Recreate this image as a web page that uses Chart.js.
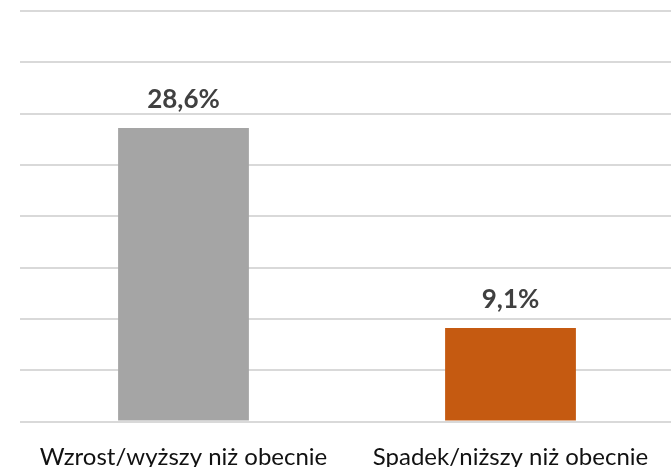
<!DOCTYPE html>
<html>
<head>
<meta charset="utf-8">
<script src="https://cdn.jsdelivr.net/npm/chart.js@4"></script>
<style>
  html, body { margin: 0; padding: 0; overflow: hidden; background: #fff; }
  #wrap { width: 674px; height: 467px; }
</style>
</head>
<body>
<div id="wrap"><canvas id="odpowiedzi"></canvas></div>
<script>
var categories = ["Wzrost/wyższy niż obecnie", "Spadek/niższy niż obecnie"];
var values = [28.6, 9.1];
var barColors = ["#a5a5a5", "#c55a11"];
var yMin = 0;
var yMax = 40;
var yStep = 5;

// etykiety wartości nad słupkami
var valueLabels = {
    id: "valueLabels",
    afterDatasetsDraw: function (chart) {
        var ctx = chart.ctx;
        var meta = chart.getDatasetMeta(0);
        ctx.save();
        ctx.font = "bold 26px Lato";
        ctx.fillStyle = "#404040";
        ctx.textAlign = "center";
        ctx.textBaseline = "alphabetic";
        meta.data.forEach(function (bar, i) {
            var txt = values[i].toFixed(1).replace(".", ",") + "%";
            ctx.fillText(txt, bar.x, bar.y - 20);
        });
        ctx.restore();
    }
};

var ctx = document.getElementById("odpowiedzi").getContext("2d");

var chart = new Chart(ctx, {
    type: "bar",
    data: {
        labels: categories,
        datasets: [{
            data: values,
            backgroundColor: barColors,
            borderWidth: 0,
            categoryPercentage: 1,
            barPercentage: 0.4
        }]
    },
    options: {
        responsive: true,
        maintainAspectRatio: false,
        animation: false,
        layout: {
            padding: { left: 20, top: 11, right: 0, bottom: 0 }
        },
        scales: {
            x: {
                grid: { display: false },
                border: { display: false },
                ticks: {
                    color: "#111111",
                    font: { family: "Lato", size: 24 },
                    padding: 13,
                    maxRotation: 0,
                    autoSkip: false
                },
                afterFit: function (scale) { scale.height = 45.5; }
            },
            y: {
                min: yMin,
                max: yMax,
                ticks: { display: false, stepSize: yStep },
                border: { display: false },
                grid: { color: "#d9d9d9", lineWidth: 2, drawTicks: false }
            }
        },
        plugins: {
            legend: { display: false },
            tooltip: { enabled: false }
        }
    },
    plugins: [valueLabels]
});
</script>
</body>
</html>
